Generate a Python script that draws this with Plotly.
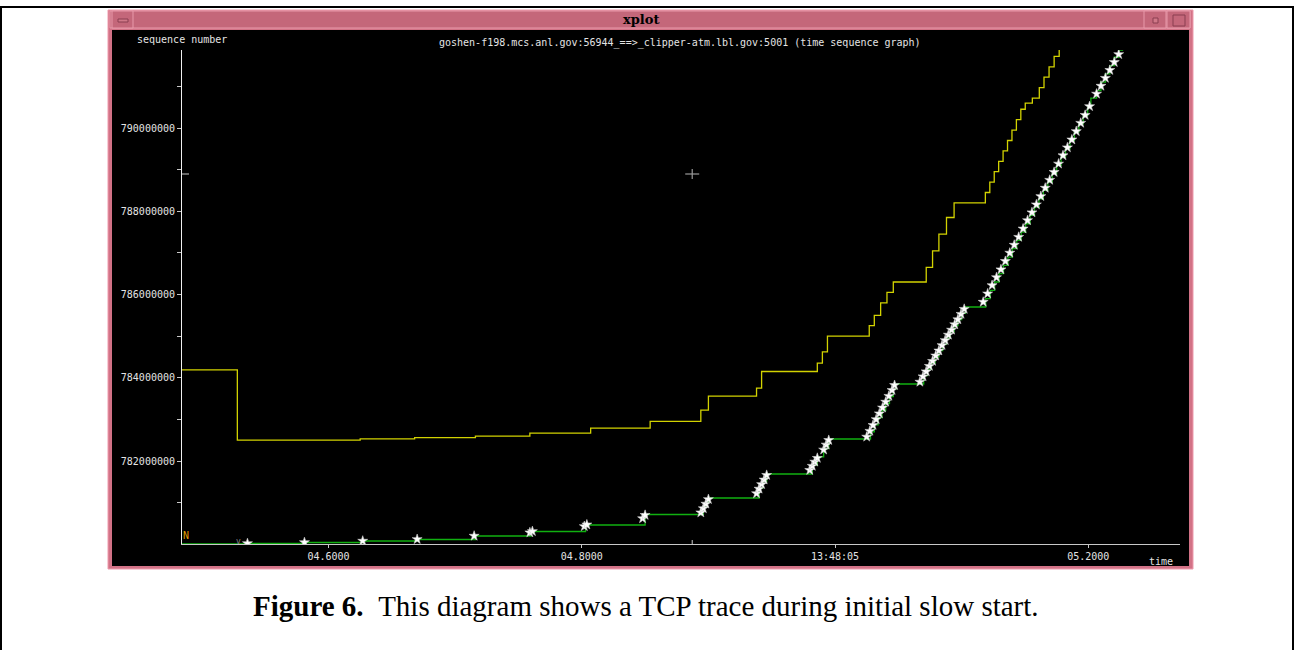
import plotly.graph_objects as go

# ---------------- data ----------------
x_tick_vals = [4.6, 4.8, 5.0, 5.2]
x_tick_text = ["04.6000", "04.8000", "13:48:05", "05.2000"]
y_tick_vals = [782, 784, 786, 788, 790]          # sequence number, millions
y_tick_text = ["782000000", "784000000", "786000000", "788000000", "790000000"]
y_minor_vals = [781, 783, 785, 787, 789, 791]

# advertised receive window (yellow), step points (hv)
win_time = [4.484, 4.528, 4.625, 4.668, 4.716, 4.759, 4.807, 4.854, 4.894, 4.900,
            4.938, 4.942, 4.986, 4.990, 4.994, 5.027, 5.031, 5.036, 5.041, 5.046,
            5.072, 5.077, 5.082, 5.088, 5.094, 5.1187, 5.1222, 5.1257, 5.1292, 5.1327,
            5.1362, 5.1397, 5.1432, 5.1467, 5.1502, 5.1558, 5.1613, 5.1650, 5.1690, 5.1730,
            5.1770, 5.1795]
win_seq = [784.19, 782.50, 782.53, 782.56, 782.60, 782.67, 782.79, 782.95, 783.22, 783.56,
           783.75, 784.15, 784.35, 784.62, 785.00, 785.25, 785.50, 785.80, 786.05, 786.30,
           786.65, 787.05, 787.45, 787.85, 788.20, 788.45, 788.70, 788.95, 789.20, 789.45,
           789.70, 789.95, 790.20, 790.45, 790.60, 790.72, 790.97, 791.22, 791.47, 791.72,
           791.90, 791.90]

# acknowledged sequence (green), step points (hv)
ack_time = [4.484, 4.536, 4.581, 4.627, 4.670, 4.716, 4.760, 4.803, 4.850, 4.896,
            4.898, 4.900, 4.940, 4.943, 4.946, 4.982, 4.986, 4.991, 4.995, 5.028,
            5.031, 5.034, 5.037, 5.040, 5.043, 5.046, 5.048, 5.070, 5.073, 5.076,
            5.079, 5.082, 5.085, 5.088, 5.091, 5.094, 5.097, 5.100, 5.103, 5.119,
            5.1225, 5.126, 5.1295, 5.133, 5.1365, 5.140, 5.1435, 5.147, 5.1505, 5.154,
            5.1575, 5.161, 5.1645, 5.168, 5.1715, 5.175, 5.1785, 5.182, 5.1855, 5.189,
            5.1925, 5.196, 5.1995, 5.202, 5.2065, 5.210, 5.2135, 5.217, 5.2205, 5.224,
            5.227]
ack_seq = [780.006, 780.018, 780.042, 780.078, 780.114, 780.198, 780.306, 780.462, 780.715, 780.90,
           781.00, 781.111, 781.35, 781.50, 781.688, 781.90, 782.10, 782.30, 782.529, 782.70,
           782.87, 783.04, 783.21, 783.38, 783.55, 783.72, 783.85, 784.05, 784.20, 784.35,
           784.50, 784.65, 784.80, 784.95, 785.10, 785.25, 785.40, 785.55, 785.70, 785.90,
           786.10, 786.30, 786.50, 786.70, 786.90, 787.10, 787.30, 787.50, 787.70, 787.90,
           788.10, 788.30, 788.50, 788.70, 788.90, 789.10, 789.30, 789.50, 789.70, 789.90,
           790.10, 790.30, 790.50, 790.72, 790.90, 791.10, 791.30, 791.50, 791.70, 791.87,
           791.90]

# transmitted data segments (white marks)
seg_time = [4.536, 4.581, 4.627, 4.670, 4.715, 4.759, 4.761, 4.802, 4.804, 4.848, 4.850,
            4.894, 4.896, 4.898, 4.900,
            4.938, 4.940, 4.942, 4.944, 4.946,
            4.980, 4.982, 4.984, 4.986, 4.991, 4.993, 4.995,
            5.025, 5.0275, 5.030, 5.0325, 5.035, 5.0375, 5.040, 5.0425, 5.045, 5.047,
            5.067, 5.0695, 5.072, 5.0745, 5.077, 5.0795, 5.082, 5.0845, 5.087, 5.0895,
            5.092, 5.0945, 5.097, 5.0995, 5.102,
            5.117, 5.1205, 5.124, 5.1275, 5.131, 5.1345, 5.138, 5.1415, 5.145, 5.1485,
            5.152, 5.1555, 5.159, 5.1625, 5.166, 5.1695, 5.173, 5.1765, 5.180, 5.1835,
            5.187, 5.1905, 5.194, 5.1975, 5.201,
            5.2065, 5.210, 5.2135, 5.217, 5.2205, 5.224]
seg_seq = [780.02, 780.045, 780.08, 780.12, 780.20, 780.28, 780.31, 780.43, 780.47, 780.62, 780.70,
           780.76, 780.86, 780.97, 781.08,
           781.22, 781.33, 781.44, 781.55, 781.66,
           781.78, 781.88, 781.98, 782.07, 782.27, 782.39, 782.50,
           782.58, 782.72, 782.86, 783.00, 783.14, 783.28, 783.42, 783.56, 783.70, 783.82,
           783.90, 784.03, 784.15, 784.28, 784.40, 784.53, 784.65, 784.78, 784.90, 785.03,
           785.15, 785.28, 785.40, 785.53, 785.65,
           785.82, 786.02, 786.22, 786.41, 786.60, 786.80, 787.00, 787.19, 787.38, 787.58,
           787.78, 787.97, 788.16, 788.36, 788.56, 788.75, 788.94, 789.14, 789.34, 789.53,
           789.72, 789.92, 790.12, 790.31, 790.52,
           790.82, 791.01, 791.20, 791.39, 791.58, 791.77]

cursor_time = 4.8872
cursor_seq = 788.895

# ---------------- figure ----------------
W, H = 1296, 650
def PX(x):
    return x / W
def PY(y):
    return 1 - y / H

MONO = "DejaVu Sans Mono"
TXT = "#e4e4e4"

fig = go.Figure()
fig.add_trace(go.Scatter(x=win_time, y=win_seq, mode="lines",
                         line=dict(color="#d2d200", width=1.3, shape="hv"),
                         hoverinfo="skip", showlegend=False))
fig.add_trace(go.Scatter(x=ack_time, y=ack_seq, mode="lines",
                         line=dict(color="#10b010", width=1.3, shape="hv"),
                         hoverinfo="skip", showlegend=False))
fig.add_trace(go.Scatter(x=seg_time, y=seg_seq, mode="markers",
                         marker=dict(symbol="star", size=7.5, color="white",
                                     line=dict(width=0.6, color="#cccccc")),
                         hoverinfo="skip", showlegend=False))

shapes = []
def prect(x0, y0, x1, y1, fill, line_color=None, lw=1):
    shapes.append(dict(type="rect", xref="paper", yref="paper",
                       x0=PX(x0), x1=PX(x1), y0=PY(y1), y1=PY(y0),
                       line=dict(color=line_color or "rgba(0,0,0,0)", width=lw if line_color else 0),
                       fillcolor=fill, layer="below"))

# outer page border
prect(1, 7, 1293, 655, "rgba(0,0,0,0)", "black", 2)
# window frame
prect(108, 10, 1193, 569, "#d27286", "#ee9aac", 1)
# title bar
prect(110, 11, 1190, 28, "#c4677a", "#e89aaa", 1)
# left button
prect(112, 11, 133, 28, "#c4677a", "#e89aaa", 1)
prect(118, 19, 128, 22, "#d07888", "#8a3f50", 1)
# right buttons
prect(1144, 11, 1166, 28, "#c4677a", "#e89aaa", 1)
prect(1153, 18, 1158, 23, "#d07888", "#8a3f50", 1)
prect(1167, 11, 1190, 28, "#c4677a", "#e89aaa", 1)
prect(1173, 15, 1185, 26, "#c4677a", "#8a3f50", 1)
# black drawing area
prect(112, 30, 1189, 566, "black")

# cursor crosshair
shapes.append(dict(type="line", xref="x", yref="y", xsizemode="pixel", ysizemode="pixel",
                   xanchor=cursor_time, yanchor=cursor_seq, x0=-7, x1=7, y0=0, y1=0,
                   line=dict(color="#9a9a9a", width=1.2)))
shapes.append(dict(type="line", xref="x", yref="y", xsizemode="pixel", ysizemode="pixel",
                   xanchor=cursor_time, yanchor=cursor_seq, x0=0, x1=0, y0=-5, y1=5,
                   line=dict(color="#9a9a9a", width=1.2)))
# cursor marks on the axes
shapes.append(dict(type="line", xref="paper", yref="y", x0=PX(182), x1=PX(189),
                   y0=cursor_seq, y1=cursor_seq, line=dict(color="#cccccc", width=1)))
shapes.append(dict(type="line", xref="x", yref="paper", x0=cursor_time, x1=cursor_time,
                   y0=PY(544), y1=PY(540), line=dict(color="#cccccc", width=1)))

def ann(text, x, y, family, size, color):
    return dict(text=text, x=PX(x), y=PY(y), xref="paper", yref="paper",
                xanchor="center", yanchor="middle", showarrow=False,
                font=dict(family=family, size=size, color=color))

annotations = [
    ann("<b>xplot</b>", 641, 19, "DejaVu Serif", 13, "black"),
    ann("sequence number", 182, 39, MONO, 10, TXT),
    ann("goshen-f198.mcs.anl.gov:56944_==>_clipper-atm.lbl.gov:5001 (time sequence graph)",
        680, 43, MONO, 10, TXT),
    ann("time", 1161, 561, MONO, 10, TXT),
    ann("N", 186, 535, MONO, 10, "#e09a00"),
    ann("v", 238, 541, MONO, 8, "#888888"),
    ann("<b>Figure 6.</b>&nbsp;&nbsp;This diagram shows a TCP trace during initial slow start.",
        646, 606, "Liberation Serif", 29, "black"),
]

fig.update_layout(
    width=W, height=H,
    margin=dict(l=0, r=0, t=0, b=0),
    paper_bgcolor="white",
    plot_bgcolor="rgba(0,0,0,0)",
    shapes=shapes,
    annotations=annotations,
    xaxis=dict(domain=[PX(182), PX(1180)], range=[4.4843, 5.2724],
               showgrid=False, zeroline=False, showline=True,
               linecolor="#c8c8c8", linewidth=1,
               ticks="outside", ticklen=3, tickcolor="#c8c8c8", tickwidth=1,
               tickvals=x_tick_vals, ticktext=x_tick_text,
               tickfont=dict(family=MONO, size=10, color=TXT)),
    yaxis=dict(domain=[PY(544), PY(50)], range=[780.006, 791.874],
               showgrid=False, zeroline=False, showline=True,
               linecolor="#f0f0f0", linewidth=1,
               ticks="outside", ticklen=4, tickcolor="#c8c8c8", tickwidth=1,
               tickvals=y_tick_vals, ticktext=y_tick_text,
               tickfont=dict(family=MONO, size=10, color=TXT),
               minor=dict(tickvals=y_minor_vals, ticks="outside", ticklen=4,
                          tickcolor="#c8c8c8")),
)

fig.write_html("out.html", config={"displayModeBar": False},
               post_script="document.body.style.margin='0px';")
